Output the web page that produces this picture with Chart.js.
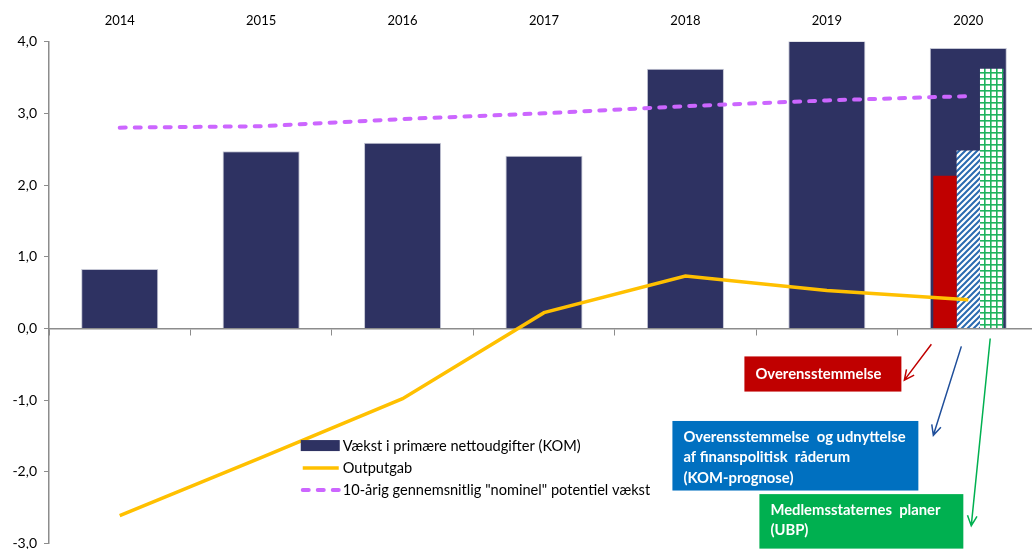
<!DOCTYPE html>
<html>
<head>
<meta charset="utf-8">
<script src="https://cdn.jsdelivr.net/npm/chart.js@4/dist/chart.umd.min.js"></script>
<style>
  html, body { margin: 0; padding: 0; overflow: hidden; background: #fff; }
  #wrap { width: 1040px; height: 559px; }
</style>
</head>
<body>
<div id="wrap"><canvas id="myChart" width="1040" height="559"></canvas></div>
<script>
// chart data
const years = ['2014', '2015', '2016', '2017', '2018', '2019', '2020'];
const primaryGrowth = [0.83, 2.47, 2.59, 2.41, 3.62, 4.01, 3.91];     // Vækst i primære nettoudgifter (KOM)
const outputGap = [-2.61, -1.80, -0.98, 0.22, 0.73, 0.53, 0.40];      // Outputgab
const potentialGrowth = [2.80, 2.82, 2.92, 3.00, 3.10, 3.18, 3.24];   // 10-årig potentiel vækst
const agreement2020 = [null, null, null, null, null, null, 2.13];     // Overensstemmelse
const komForecast2020 = [null, null, null, null, null, null, 2.48];   // Overensstemmelse og udnyttelse ...
const memberPlans2020 = [null, null, null, null, null, null, 3.62];   // Medlemsstaternes planer (UBP)
const yTicks = [-3, -2, -1, 0, 1, 2, 3, 4];

const FONT = 'Lato, "Open Sans", sans-serif';
const GREY = '#8c8c8c';

// fill patterns for the 2020 bars
function makeHatch() {
  const c = document.createElement('canvas');
  c.width = 6; c.height = 6;
  const g = c.getContext('2d');
  g.fillStyle = '#ffffff';
  g.fillRect(0, 0, 6, 6);
  g.strokeStyle = '#2a6ab0';
  g.lineWidth = 2;
  g.beginPath();
  g.moveTo(-1, 7); g.lineTo(7, -1);
  g.moveTo(-4, 4); g.lineTo(4, -4);
  g.moveTo(2, 10); g.lineTo(10, 2);
  g.stroke();
  return g.createPattern(c, 'repeat');
}

function makeGrid() {
  const c = document.createElement('canvas');
  c.width = 6; c.height = 6;
  const g = c.getContext('2d');
  g.fillStyle = '#ffffff';
  g.fillRect(0, 0, 6, 6);
  g.fillStyle = '#1fb45e';
  g.fillRect(0, 0, 6, 1.6);
  g.fillRect(0, 0, 1.6, 6);
  return g.createPattern(c, 'repeat');
}

// helper: category units -> pixels
function xAt(chart, f) {
  const xs = chart.scales.x;
  const x0 = xs.getPixelForValue(0);
  return x0 + f * (xs.getPixelForValue(1) - x0);
}

function arrow(ctx, x1, y1, x2, y2, color) {
  const a = Math.atan2(y2 - y1, x2 - x1);
  const len = 11, spread = 0.45;
  ctx.save();
  ctx.strokeStyle = color;
  ctx.lineWidth = 1.5;
  ctx.beginPath();
  ctx.moveTo(x1, y1);
  ctx.lineTo(x2, y2);
  ctx.moveTo(x2 - len * Math.cos(a - spread), y2 - len * Math.sin(a - spread));
  ctx.lineTo(x2, y2);
  ctx.lineTo(x2 - len * Math.cos(a + spread), y2 - len * Math.sin(a + spread));
  ctx.stroke();
  ctx.restore();
}

function textBox(ctx, chart, f1, v1, f2, v2, color, lines) {
  const ys = chart.scales.y;
  const x1 = xAt(chart, f1), x2 = xAt(chart, f2);
  const y1 = ys.getPixelForValue(v1), y2 = ys.getPixelForValue(v2);
  ctx.save();
  ctx.fillStyle = color;
  ctx.fillRect(x1, y1, x2 - x1, y2 - y1);
  ctx.fillStyle = '#ffffff';
  ctx.font = 'bold 14.8px ' + FONT;
  ctx.textBaseline = 'middle';
  const lineH = 20.5;
  const top = lines.length === 1 ? (y1 + y2) / 2 : y1 + 16;
  lines.forEach((t, i) => ctx.fillText(t, x1 + 11, top + i * lineH));
  ctx.restore();
}

// legend drawn inside the plot, plus the 2020 call-out boxes
const overlayPlugin = {
  id: 'overlay',
  afterDatasetsDraw(chart) {
    const ctx = chart.ctx;
    const ys = chart.scales.y;
    const ds = chart.data.datasets;

    // legend (first three series only)
    const lx = xAt(chart, 1.28);
    const ly = ys.getPixelForValue(-1.64);
    ctx.save();
    ctx.font = '14.6px ' + FONT;
    ctx.fillStyle = '#000';
    ctx.textBaseline = 'middle';
    [0, 1, 2].forEach((k, i) => {
      const d = ds[k];
      const y = ly + i * 22;
      if (d.type === 'line') {
        ctx.save();
        ctx.strokeStyle = d.borderColor;
        ctx.lineWidth = d.borderWidth;
        ctx.lineCap = d.borderCapStyle || 'butt';
        ctx.setLineDash(d.borderDash || []);
        ctx.beginPath();
        ctx.moveTo(lx + 2, y);
        ctx.lineTo(lx + 38, y);
        ctx.stroke();
        ctx.restore();
      } else {
        ctx.fillStyle = d.backgroundColor;
        ctx.fillRect(lx, y - 6, 39, 11);
        ctx.fillStyle = '#000';
      }
      ctx.fillText(d.label, lx + 42, y);
    });
    ctx.restore();

    // call-outs
    textBox(ctx, chart, 4.417, -0.39, 5.527, -0.88, '#c00000', ['Overensstemmelse']);
    textBox(ctx, chart, 3.908, -1.29, 5.647, -2.26, '#0070c0',
      ['Overensstemmelse  og udnyttelse', 'af finanspolitisk  råderum', '(KOM-prognose)']);
    textBox(ctx, chart, 4.523, -2.31, 5.965, -3.07, '#00b050',
      ['Medlemsstaternes  planer', '(UBP)']);

    arrow(ctx, xAt(chart, 5.739), ys.getPixelForValue(-0.22), xAt(chart, 5.548), ys.getPixelForValue(-0.72), '#c00000');
    arrow(ctx, xAt(chart, 5.951), ys.getPixelForValue(-0.25), xAt(chart, 5.753), ys.getPixelForValue(-1.49), '#1f4e9a');
    arrow(ctx, xAt(chart, 6.155), ys.getPixelForValue(-0.14), xAt(chart, 6.021), ys.getPixelForValue(-2.75), '#00b050');
  }
};

const ctx = document.getElementById('myChart').getContext('2d');

new Chart(ctx, {
  type: 'bar',
  data: {
    labels: years,
    datasets: [
      {
        label: 'Vækst i primære nettoudgifter (KOM)',
        data: primaryGrowth,
        backgroundColor: '#2e3262',
        borderColor: '#c4c6d4',
        borderWidth: 1,
        grouped: false,
        categoryPercentage: 0.545,
        barPercentage: 1,
        order: 3
      },
      {
        type: 'line',
        label: 'Outputgab',
        data: outputGap,
        borderColor: '#ffc000',
        borderWidth: 3.5,
        pointRadius: 0,
        tension: 0,
        order: 0
      },
      {
        type: 'line',
        label: '10-årig gennemsnitlig "nominel" potentiel vækst',
        data: potentialGrowth,
        borderColor: '#cc66ff',
        borderWidth: 4,
        borderDash: [6, 9],
        borderCapStyle: 'round',
        pointRadius: 0,
        tension: 0,
        order: 0
      },
      {
        label: 'Overensstemmelse',
        data: agreement2020,
        backgroundColor: '#c00000',
        categoryPercentage: 0.495,
        barPercentage: 1,
        order: 2
      },
      {
        label: 'Overensstemmelse og udnyttelse af finanspolitisk råderum (KOM-prognose)',
        data: komForecast2020,
        backgroundColor: makeHatch(),
        categoryPercentage: 0.495,
        barPercentage: 1,
        order: 2
      },
      {
        label: 'Medlemsstaternes planer (UBP)',
        data: memberPlans2020,
        backgroundColor: makeGrid(),
        categoryPercentage: 0.495,
        barPercentage: 1,
        order: 2
      }
    ]
  },
  options: {
    responsive: false,
    animation: false,
    layout: { padding: { top: 0, right: 1, left: 0, bottom: 0 } },
    plugins: {
      legend: { display: false },
      tooltip: { enabled: false }
    },
    scales: {
      x: {
        position: 'top',
        offset: true,
        grid: { display: false, drawTicks: false },
        border: { display: false },
        ticks: { color: '#000', font: { family: FONT, size: 13 }, padding: 13, maxRotation: 0 }
      },
      x0: {
        type: 'category',
        position: { y: 0 },
        offset: true,
        grid: { offset: true, drawOnChartArea: false, drawTicks: true, tickLength: 6, color: GREY },
        border: { display: true, color: GREY, width: 1.5 },
        ticks: { display: false }
      },
      y: {
        min: -3,
        max: 4,
        afterBuildTicks: (s) => { s.ticks = yTicks.map(v => ({ value: v })); },
        afterFit: (s) => { s.width = 49; },
        grid: { drawOnChartArea: false, drawTicks: true, tickLength: 5, color: GREY },
        border: { display: true, color: GREY, width: 1.5 },
        ticks: {
          color: '#000',
          font: { family: FONT, size: 14 },
          padding: 7,
          callback: (v) => Number(v).toFixed(1).replace('.', ',')
        }
      }
    }
  },
  plugins: [overlayPlugin]
});
</script>
</body>
</html>
